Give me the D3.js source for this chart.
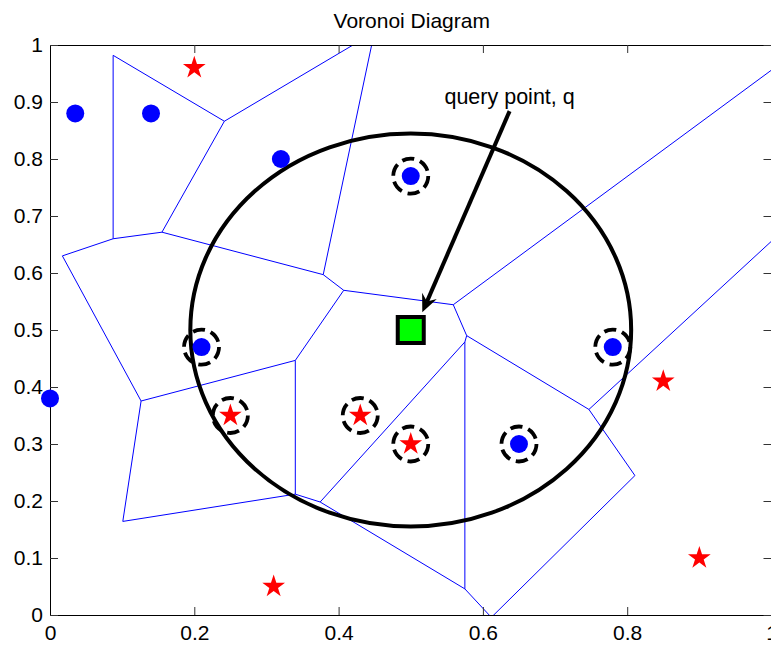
<!DOCTYPE html>
<html>
<head>
<meta charset="utf-8">
<script src="https://cdn.jsdelivr.net/npm/d3@7"></script>
<style>
body { margin: 0; background: #fff; }
text { font-family: "Liberation Sans", Arial, sans-serif; }
</style>
</head>
<body>
<div id="vis"></div>
<script>
const width = 771
const height = 645
const marginLeft = 50
const marginTop = 45
const plotW = 721.5
const plotH = 570

// class 1 sites (blue dots)
const blueX = [0.035, 0.14, 0.32, 0.50, 0.21, 0.00, 0.78, 0.65]
const blueY = [0.88, 0.88, 0.80, 0.77, 0.47, 0.38, 0.47, 0.30]
// class 2 sites (red stars)
const redX = [0.20, 0.25, 0.43, 0.50, 0.85, 0.90, 0.31]
const redY = [0.96, 0.35, 0.35, 0.30, 0.41, 0.10, 0.05]
// neighbours of q inside the circle (dashed rings)
const nnX = [0.50, 0.21, 0.25, 0.43, 0.50, 0.65, 0.78]
const nnY = [0.77, 0.47, 0.35, 0.35, 0.30, 0.30, 0.47]
// query point and its search circle
const queryX = 0.5
const queryY = 0.5
const radiusX = 0.3055
const radiusY = 0.3447
// annotation arrow
const arrowFrom = [0.637, 0.884]
const arrowTo = [0.516, 0.531]
const annotation = "query point, q"
const title = "Voronoi Diagram"

const xTicks = [0, 0.2, 0.4, 0.6, 0.8, 1]
const xTickLabels = ["0", "0.2", "0.4", "0.6", "0.8", "1"]
const yTicks = [0, 0.1, 0.2, 0.3, 0.4, 0.5, 0.6, 0.7, 0.8, 0.9, 1]
const yTickLabels = ["0", "0.1", "0.2", "0.3", "0.4", "0.5", "0.6", "0.7", "0.8", "0.9", "1"]

const svg = d3.select("#vis")
    .append("svg")
    .attr("width", width)
    .attr("height", height)
    .style("display", "block")

const container = svg.append("g")
    .attr("transform", `translate(${marginLeft}, ${marginTop})`)

const xScale = d3.scaleLinear([0, 1], [0, plotW])
const yScale = d3.scaleLinear([0, 1], [plotH, 0])

svg.append("defs").append("clipPath")
    .attr("id", "plot-clip")
    .append("rect")
    .attr("x", 0).attr("y", 0)
    .attr("width", plotW).attr("height", plotH)

// voronoi edges: join circumcentres of neighbouring delaunay triangles
const sites = blueX.map((x, i) => [x, blueY[i]])
    .concat(redX.map((x, i) => [x, redY[i]]))
const delaunay = d3.Delaunay.from(sites)
const cc = delaunay.voronoi([-10, -10, 11, 11]).circumcenters
const edges = []
delaunay.halfedges.forEach((o, e) => {
    if (o > e) {
        const t1 = Math.floor(e / 3), t2 = Math.floor(o / 3)
        edges.push([cc[2 * t1], cc[2 * t1 + 1], cc[2 * t2], cc[2 * t2 + 1]])
    }
})

container.append("g")
    .attr("clip-path", "url(#plot-clip)")
    .selectAll("line.edge")
    .data(edges)
    .join("line")
        .attr("class", "edge")
        .attr("x1", d => xScale(d[0]))
        .attr("y1", d => yScale(d[1]))
        .attr("x2", d => xScale(d[2]))
        .attr("y2", d => yScale(d[3]))
        .attr("stroke", "#0000ff")
        .attr("stroke-width", 1)

// axes, ticks pointing inward on all four sides
const axisB = d3.axisBottom(xScale).tickValues(xTicks)
    .tickFormat((d, i) => xTickLabels[i]).tickSizeInner(-8).tickSizeOuter(0).tickPadding(10)
const axisT = d3.axisTop(xScale).tickValues(xTicks)
    .tickFormat("").tickSizeInner(-8).tickSizeOuter(0)
const axisL = d3.axisLeft(yScale).tickValues(yTicks)
    .tickFormat((d, i) => yTickLabels[i]).tickSizeInner(-8).tickSizeOuter(0).tickPadding(7)
const axisR = d3.axisRight(yScale).tickValues(yTicks)
    .tickFormat("").tickSizeInner(-8).tickSizeOuter(0)

const gB = container.append("g").attr("transform", `translate(0, ${plotH})`).call(axisB)
const gT = container.append("g").call(axisT)
const gL = container.append("g").call(axisL)
const gR = container.append("g").attr("transform", `translate(${plotW}, 0)`).call(axisR)

for (const g of [gB, gT, gL, gR]) {
    g.selectAll("text")
        .attr("fill", "#000")
        .style("font-size", "21px")
        .style("font-family", "'Liberation Sans', Arial, sans-serif")
    g.select(".domain").attr("stroke", "#000")
    g.selectAll(".tick line").attr("stroke", "#333")
}

// search circle around q
container.append("ellipse")
    .attr("cx", xScale(queryX))
    .attr("cy", yScale(queryY))
    .attr("rx", xScale(radiusX) - xScale(0))
    .attr("ry", yScale(0) - yScale(radiusY))
    .attr("fill", "none")
    .attr("stroke", "#000")
    .attr("stroke-width", 4)

// blue sites
container.selectAll("circle.blue")
    .data(blueX)
    .join("circle")
        .attr("class", "blue")
        .attr("cx", d => xScale(d))
        .attr("cy", (d, i) => yScale(blueY[i]))
        .attr("r", 9)
        .attr("fill", "#0000ff")

// red sites
const star = d3.symbol(d3.symbolStar, 160)
container.selectAll("path.red")
    .data(redX)
    .join("path")
        .attr("class", "red")
        .attr("transform", (d, i) => `translate(${xScale(d)}, ${yScale(redY[i])})`)
        .attr("d", star)
        .attr("fill", "#ff0000")

// dashed rings on the neighbours
container.selectAll("circle.nn")
    .data(nnX)
    .join("circle")
        .attr("class", "nn")
        .attr("cx", d => xScale(d))
        .attr("cy", (d, i) => yScale(nnY[i]))
        .attr("r", 17.5)
        .attr("fill", "none")
        .attr("stroke", "#000")
        .attr("stroke-width", 3.8)
        .attr("stroke-dasharray", "12.3,6")

// query point
container.append("rect")
    .attr("x", xScale(queryX) - 13)
    .attr("y", yScale(queryY) - 13)
    .attr("width", 26)
    .attr("height", 26)
    .attr("fill", "#00ff00")
    .attr("stroke", "#000")
    .attr("stroke-width", 4)

// arrow
const ax0 = xScale(arrowFrom[0]), ay0 = yScale(arrowFrom[1])
const ax1 = xScale(arrowTo[0]), ay1 = yScale(arrowTo[1])
const len = Math.hypot(ax1 - ax0, ay1 - ay0)
const ux = (ax1 - ax0) / len, uy = (ay1 - ay0) / len
const nx = -uy, ny = ux
const headL = 18, headW = 8
const notch = [ax1 - ux * headL * 0.65, ay1 - uy * headL * 0.65]
container.append("line")
    .attr("x1", ax0).attr("y1", ay0)
    .attr("x2", notch[0]).attr("y2", notch[1])
    .attr("stroke", "#000")
    .attr("stroke-width", 4)
container.append("path")
    .attr("d", d3.line()([
        [ax1, ay1],
        [ax1 - ux * headL + nx * headW, ay1 - uy * headL + ny * headW],
        notch,
        [ax1 - ux * headL - nx * headW, ay1 - uy * headL - ny * headW]
    ]) + "Z")
    .attr("fill", "#000")

container.append("text")
    .attr("x", ax0)
    .attr("y", ay0 - 7)
    .attr("text-anchor", "middle")
    .style("font-size", "21.5px")
    .text(annotation)

svg.append("text")
    .attr("x", marginLeft + plotW / 2 + 1)
    .attr("y", 28)
    .attr("text-anchor", "middle")
    .style("font-size", "21px")
    .text(title)
</script>
</body>
</html>
